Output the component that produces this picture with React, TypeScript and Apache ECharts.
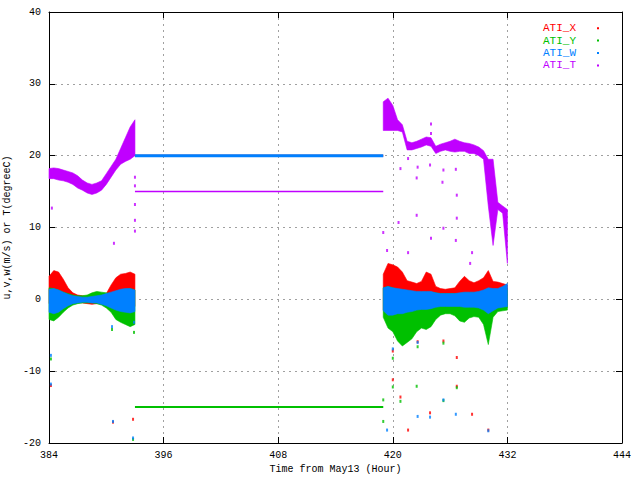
import React, { useEffect, useRef } from "react";
import * as echarts from "echarts";

// ---- data ----
const X_TICKS_MIN = 384;
const X_TICKS_MAX = 444;
const Y_MIN = -20;
const Y_MAX = 40;

// segment 1 and segment 3 sample times (hours)
const T1 = [384, 384.5, 385, 385.5, 386, 386.5, 387, 387.5, 388, 388.5, 389, 389.5, 390, 390.5, 391, 391.5, 392, 392.5, 393];
const T3 = [419, 419.5, 420, 420.5, 421, 421.5, 422, 422.5, 423, 423.5, 424, 424.5, 425, 425.5, 426, 426.5, 427, 427.5, 428, 428.5, 429, 429.5, 430, 430.5, 431, 431.5, 432];

// ATI_X envelopes
const X1_HI = [3.2, 4.0, 3.8, 2.8, 1.6, 0.9, 0.6, 0.5, 0.4, 0.5, 0.5, 0.6, 0.8, 2.0, 3.0, 3.5, 3.6, 3.8, 3.5];
const X1_LO = [-0.6, -0.8, -0.7, -0.6, -0.5, -0.4, -0.4, -0.5, -0.6, -0.7, -0.6, -0.6, -0.7, -0.8, -1.0, -1.0, -1.2, -1.2, -1.0];
const X3_HI = [3.5, 5.0, 4.8, 4.5, 3.8, 2.6, 2.4, 2.2, 2.5, 3.8, 3.5, 1.8, 1.5, 1.4, 1.5, 1.6, 2.5, 3.2, 2.6, 2.3, 2.6, 3.0, 4.0, 2.5, 2.4, 2.2, 2.0];
const X3_LO = [-1.5, -1.8, -2.0, -2.2, -2.0, -1.8, -1.6, -1.5, -1.4, -1.3, -1.2, -1.0, -1.0, -1.0, -1.0, -1.0, -1.1, -1.2, -1.2, -1.1, -1.1, -1.2, -1.5, -1.3, -1.0, -1.0, -0.9];

// ATI_Y envelopes
const Y1_HI = [1.6, 1.5, 1.3, 1.0, 0.8, 0.6, 0.5, 0.5, 0.6, 0.9, 1.1, 1.0, 0.9, 0.8, 1.0, 1.2, 1.4, 1.5, 1.3];
const Y1_LO = [-2.8, -3.0, -2.5, -1.8, -1.2, -0.8, -0.6, -0.5, -0.5, -0.5, -0.6, -0.8, -1.2, -1.8, -2.8, -3.2, -3.5, -3.8, -3.5];
const Y3_HI = [1.6, 1.8, 1.6, 1.4, 1.3, 1.2, 1.1, 1.0, 1.0, 1.0, 1.0, 0.9, 0.8, 0.8, 0.8, 0.8, 0.8, 0.9, 0.9, 0.9, 1.0, 1.1, 1.2, 1.1, 1.0, 1.1, 1.3];
const Y3_LO = [-2.5, -4.0, -4.5, -5.8, -6.5, -6.0, -5.5, -4.5, -4.0, -4.2, -3.8, -2.8, -2.2, -2.0, -2.0, -2.3, -3.0, -3.2, -2.6, -2.4, -2.5, -3.5, -6.3, -2.5, -1.7, -1.6, -1.5];

// ATI_W envelopes
const W1_HI = [1.4, 1.5, 1.3, 1.0, 0.7, 0.5, 0.4, 0.3, 0.3, 0.4, 0.5, 0.6, 0.8, 1.0, 1.2, 1.4, 1.5, 1.5, 1.3];
const W1_LO = [-1.8, -2.0, -1.8, -1.3, -0.9, -0.6, -0.5, -0.4, -0.4, -0.5, -0.5, -0.7, -0.9, -1.2, -1.5, -1.7, -1.8, -1.9, -1.7];
const W3_HI = [1.6, 1.8, 1.6, 1.5, 1.4, 1.3, 1.2, 1.1, 1.1, 1.1, 1.1, 0.9, 0.8, 0.8, 0.8, 0.8, 0.9, 1.0, 1.0, 1.0, 1.1, 1.3, 1.6, 1.5, 1.5, 1.8, 2.2];
const W3_LO = [-1.6, -2.2, -2.2, -2.0, -2.0, -1.8, -1.7, -1.5, -1.4, -1.4, -1.3, -1.1, -1.0, -1.0, -1.0, -1.0, -1.0, -1.1, -1.1, -1.1, -1.2, -1.5, -2.0, -1.6, -1.2, -1.1, -1.0];

// ATI_T envelopes
const TT1_HI = [18.2, 18.3, 18.2, 18.0, 17.8, 17.6, 17.2, 16.6, 16.2, 16.0, 16.2, 16.5, 17.5, 18.5, 19.5, 21.0, 22.5, 24.0, 25.0];
const TT1_LO = [16.8, 16.8, 16.6, 16.5, 16.3, 16.0, 15.5, 15.2, 14.8, 14.6, 14.8, 15.2, 16.0, 17.0, 18.0, 18.8, 19.2, 19.5, 20.0];
const TT3_HI = [27.5, 28.0, 27.0, 25.0, 24.3, 22.0, 21.8, 22.0, 22.3, 22.6, 22.5, 21.3, 21.6, 21.8, 22.0, 22.3, 22.0, 21.8, 21.7, 21.5, 21.2, 20.7, 19.5, 19.5, 13.5, 13.0, 12.5];
const TT3_LO = [23.5, 23.5, 23.5, 23.5, 23.3, 20.8, 20.8, 21.0, 21.2, 21.5, 21.3, 20.3, 20.6, 20.8, 20.6, 20.5, 20.6, 20.6, 20.3, 20.3, 20.0, 19.5, 13.0, 7.5, 12.5, 12.0, 5.0];

// flat (gap-filled) stretch
const FLAT_T = [393, 419];
const FLAT_X = [20, 20];
const FLAT_Y = [-15, -15];
const FLAT_W = [20, 20];
const FLAT_TT = [15, 15];

// sparse outlier points
const OUT_X: [number, number][] = [
  [390.7, -17.1], [392.8, -16.7], [384.2, -12.0], [420.0, -7.2], [420.0, -11.2], [420.8, -13.6], [422.6, -5.9],
  [423.9, -15.8], [425.3, -5.8], [426.7, -8.1], [426.7, -12.1], [428.3, -16.0], [421.6, -18.2], [430.0, -18.2],
];
const OUT_Y: [number, number][] = [
  [392.8, -19.5], [390.6, -4.2], [392.9, -4.6], [384.2, -8.3], [420.0, -8.2], [420.0, -12.2], [420.8, -14.2],
  [422.6, -6.6], [422.5, -12.1], [425.3, -6.1], [425.3, -14.1], [426.7, -12.3], [419.0, -14.0], [419.0, -17.0],
];
const OUT_W: [number, number][] = [
  [390.7, -17.0], [392.8, -19.3], [384.2, -7.8], [384.2, -11.8], [390.6, -3.8], [392.9, -3.2], [420.0, -6.9],
  [422.6, -6.0], [423.9, -16.4], [425.3, -14.0], [426.6, -16.0], [419.4, -18.2], [430.0, -18.3], [422.6, -16.3],
];
const OUT_T: [number, number][] = [
  [393.0, 17.0], [393.0, 15.8], [393.0, 13.2], [393.0, 11.0], [393.0, 9.5], [390.8, 7.8], [384.3, 12.7],
  [424.0, 24.4], [424.0, 23.1], [421.6, 19.6], [420.8, 18.2], [422.6, 18.4], [423.9, 18.7], [425.3, 18.0],
  [426.6, 18.1], [422.5, 16.9], [426.7, 14.5], [425.2, 16.3], [422.5, 11.7], [420.6, 10.7], [425.3, 9.9],
  [426.7, 11.3], [421.6, 6.5], [424.0, 8.5], [426.6, 8.2], [428.3, 6.5], [428.1, 5.0], [419.0, 9.3], [419.4, 6.8],
];

const NAMES = ["ATI_X", "ATI_Y", "ATI_W", "ATI_T"];
const COLORS = ["#ff0000", "#00c000", "#0080ff", "#c000ff"];

type Seg = { t: number[]; lo: number[]; hi: number[] };

function bandSeries(name: string, color: string, segs: Seg[]) {
  return {
    type: "custom",
    name,
    itemStyle: { color },
    data: segs.map((s, i) => [s.t[0], s.lo[0], i]),
    renderItem: (params: any, api: any) => {
      const s = segs[api.value(2) as number];
      const pts: number[][] = [];
      for (let j = 0; j < s.t.length; j++) pts.push(api.coord([s.t[j], s.hi[j]]));
      for (let j = s.t.length - 1; j >= 0; j--) pts.push(api.coord([s.t[j], s.lo[j]]));
      return { type: "polygon", shape: { points: pts }, style: { fill: color, stroke: color, lineWidth: 0.6 } };
    },
  };
}

function flatSeries(name: string, color: string, ys: number[], width: number) {
  return {
    type: "line",
    name,
    data: FLAT_T.map((t, i) => [t, ys[i]]),
    showSymbol: false,
    itemStyle: { color },
    lineStyle: { color, width },
  };
}

function outSeries(name: string, color: string, pts: [number, number][]) {
  return {
    type: "scatter",
    name,
    data: pts,
    symbol: "rect",
    symbolSize: [2, 3],
    itemStyle: { color },
  };
}

const FONT = "'Liberation Mono', 'DejaVu Sans Mono', monospace";

export default function App() {
  const ref = useRef<HTMLDivElement>(null);
  useEffect(() => {
    if (!ref.current) return;
    const chart = echarts.init(ref.current, undefined, { renderer: "svg" });
    const splitLine = { show: true, lineStyle: { color: "#a0a0a0", type: [2, 4] as any, width: 1 } };
    const axisLine = { show: true, onZero: false, lineStyle: { color: "#000", width: 1 } };
    const axisTick = { show: true, inside: true, length: 6, lineStyle: { color: "#000" } };
    chart.setOption({
      animation: false,
      backgroundColor: "#fff",
      grid: { left: 49, right: 18, top: 12, bottom: 37, containLabel: false, outerBoundsMode: "none" },
      legend: {
        orient: "vertical",
        right: 36,
        top: 17,
        align: "right",
        icon: "rect",
        itemWidth: 2,
        itemHeight: 2,
        itemGap: 0,
        textStyle: { fontFamily: FONT, fontSize: 11, lineHeight: 12.4, padding: [0, 16, 0, 0] },
        data: NAMES.map((n, i) => ({ name: n, textStyle: { color: COLORS[i] } })),
      },
      xAxis: [
        {
          type: "value",
          min: X_TICKS_MIN,
          max: X_TICKS_MAX,
          interval: 12,
          name: "Time from May13 (Hour)",
          nameLocation: "middle",
          nameGap: 17,
          nameTextStyle: { fontFamily: FONT, fontSize: 10, color: "#000" },
          axisLine,
          axisTick,
          axisLabel: { fontFamily: FONT, fontSize: 10, color: "#000", margin: 7 },
          splitLine,
        },
        {
          type: "value",
          position: "top",
          min: X_TICKS_MIN,
          max: X_TICKS_MAX,
          interval: 12,
          axisLine,
          axisTick,
          axisLabel: { show: false },
          splitLine: { show: false },
        },
      ],
      yAxis: [
        {
          type: "value",
          min: Y_MIN,
          max: Y_MAX,
          interval: 10,
          name: "u,v,w(m/s) or T(degreeC)",
          nameLocation: "middle",
          nameGap: 31,
          nameTextStyle: { fontFamily: FONT, fontSize: 10, color: "#000" },
          axisLine,
          axisTick,
          axisLabel: { fontFamily: FONT, fontSize: 10, color: "#000", margin: 8 },
          splitLine,
        },
        {
          type: "value",
          position: "right",
          min: Y_MIN,
          max: Y_MAX,
          interval: 10,
          axisLine,
          axisTick,
          axisLabel: { show: false },
          splitLine: { show: false },
        },
      ],
      series: [
        bandSeries(NAMES[0], COLORS[0], [{ t: T1, lo: X1_LO, hi: X1_HI }, { t: T3, lo: X3_LO, hi: X3_HI }]),
        flatSeries(NAMES[0], COLORS[0], FLAT_X, 2),
        outSeries(NAMES[0], COLORS[0], OUT_X),
        bandSeries(NAMES[1], COLORS[1], [{ t: T1, lo: Y1_LO, hi: Y1_HI }, { t: T3, lo: Y3_LO, hi: Y3_HI }]),
        flatSeries(NAMES[1], COLORS[1], FLAT_Y, 2),
        outSeries(NAMES[1], COLORS[1], OUT_Y),
        bandSeries(NAMES[2], COLORS[2], [{ t: T1, lo: W1_LO, hi: W1_HI }, { t: T3, lo: W3_LO, hi: W3_HI }]),
        flatSeries(NAMES[2], COLORS[2], FLAT_W, 3),
        outSeries(NAMES[2], COLORS[2], OUT_W),
        bandSeries(NAMES[3], COLORS[3], [{ t: T1, lo: TT1_LO, hi: TT1_HI }, { t: T3, lo: TT3_LO, hi: TT3_HI }]),
        flatSeries(NAMES[3], COLORS[3], FLAT_TT, 1.5),
        outSeries(NAMES[3], COLORS[3], OUT_T),
      ],
    });
    return () => chart.dispose();
  }, []);
  return <div ref={ref} style={{ position: "fixed", left: 0, top: 0, width: 640, height: 480 }} />;
}
